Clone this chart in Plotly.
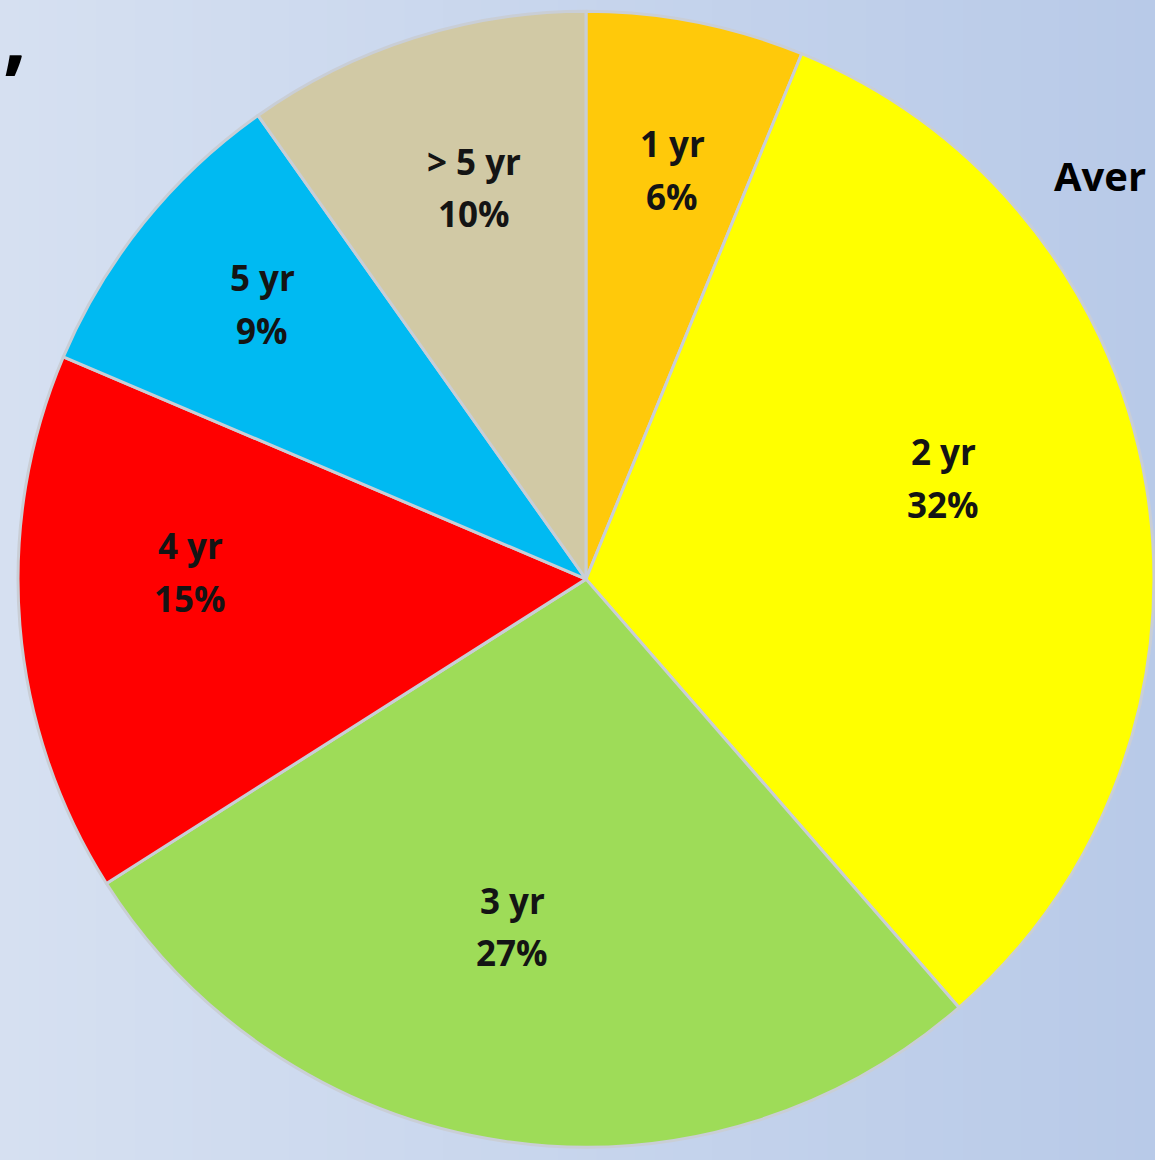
import plotly.graph_objects as go

labels = ["1 yr", "2 yr", "3 yr", "4 yr", "5 yr", "> 5 yr"]
values = [6.2, 32.4, 27.4, 15.4, 8.8, 9.8]
colors = ["#FFC90A", "#FFFF00", "#9EDC58", "#FF0000", "#00BAF2", "#D1C9A5"]

# label anchor positions (pixels from top-left) for the in-slice data labels
label_px = [(672, 143), (943, 451), (512, 900), (190, 545), (262, 277), (474, 161)]
LINE_GAP = 53

W, H = 1155, 1160
fig = go.Figure()

fig.add_trace(go.Pie(
    labels=labels,
    values=values,
    sort=False,
    direction="clockwise",
    rotation=0,
    marker=dict(colors=colors, line=dict(color="#C9CED6", width=3)),
    textinfo="none",
    showlegend=False,
    hoverinfo="label+percent",
    domain=dict(x=[0.0156, 0.9991], y=[0.0095, 0.9920]),
))

# background gradient
n = 60
c0 = (214, 224, 241)
c1 = (184, 202, 232)
shapes = []
for i in range(n):
    t = i / (n - 1)
    c = tuple(round(c0[k] + (c1[k] - c0[k]) * t) for k in range(3))
    shapes.append(dict(type="rect", xref="paper", yref="paper",
                       x0=i / n, x1=(i + 1) / n + 0.002, y0=0, y1=1,
                       fillcolor="rgb(%d,%d,%d)" % c, line=dict(width=0),
                       layer="below"))

total = sum(values)
lab_font = dict(family="Open Sans", size=35, color="#141414", weight="bold")
annotations = []
for lab, v, (px, py) in zip(labels, values, label_px):
    pct = "%d%%" % round(v / total * 100)
    for txt, yy in ((lab, py), (pct, py + LINE_GAP)):
        annotations.append(dict(text=txt, x=px / W, y=1 - yy / H,
                                xref="paper", yref="paper",
                                xanchor="center", yanchor="middle",
                                showarrow=False, font=lab_font))

annotations += [
    dict(text=",", x=0.001, y=1 - 32 / H, xref="paper", yref="paper",
         xanchor="left", yanchor="middle", showarrow=False,
         font=dict(family="Open Sans", size=84, color="black", weight="bold")),
    dict(text="Aver", x=1052 / W, y=1 - 175 / H, xref="paper", yref="paper",
         xanchor="left", yanchor="middle", showarrow=False,
         font=dict(family="Open Sans", size=40, color="black", weight="bold")),
]

fig.update_layout(
    width=W, height=H,
    margin=dict(l=0, r=0, t=0, b=0),
    paper_bgcolor="#C8D6EC",
    plot_bgcolor="rgba(0,0,0,0)",
    shapes=shapes,
    annotations=annotations,
)

fig.write_html("out.html", config={"displayModeBar": False},
               post_script="document.body.style.margin='0';document.body.style.overflow='hidden';")
